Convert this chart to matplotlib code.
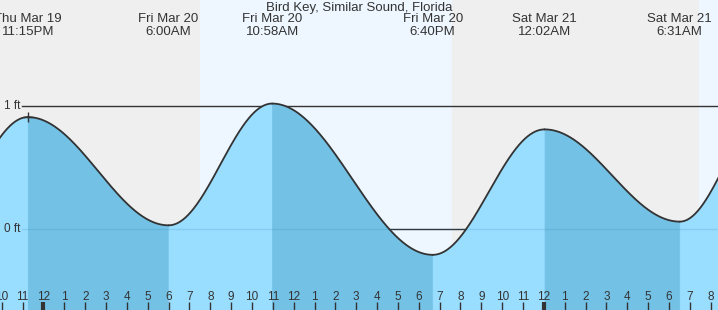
import numpy as np
import matplotlib.pyplot as plt

# tide extremes, hours counted from Fri Mar 20 00:00
tide_days = ['Thu Mar 19', 'Fri Mar 20', 'Fri Mar 20', 'Fri Mar 20', 'Sat Mar 21', 'Sat Mar 21']
tide_clock = ['11:15PM', '6:00AM', '10:58AM', '6:40PM', '12:02AM', '6:31AM']
tide_hours = [-0.75, 6.0, 10.967, 18.667, 24.033, 30.517]
tide_ft = [0.91, 0.03, 1.02, -0.21, 0.81, 0.06]

# extremes just outside the window (estimated from the curve at the edges)
edge_hours = [-5.5, 34.9]
edge_ft = [0.0, 1.0]

# sunrise / sunset
sunrise = [7.5, 31.45]
sunset = [19.58]

hour_labels = ['10', '11', '12', '1', '2', '3', '4', '5', '6', '7', '8', '9', '10', '11',
               '12', '1', '2', '3', '4', '5', '6', '7', '8', '9', '10', '11',
               '12', '1', '2', '3', '4', '5', '6', '7', '8']
hour_ticks = list(range(-2, 33))

xmin, xmax = -2.086, 32.35
ymin, ymax = -0.6585, 1.862

night = '#efefef'
day = '#eef7ff'
rise_col = '#99ddff'
fall_col = '#73c2e6'
ink = '#333333'

plt.rcParams['font.family'] = ['Liberation Sans', 'DejaVu Sans']

all_t = [edge_hours[0]] + tide_hours + [edge_hours[1]]
all_h = [edge_ft[0]] + tide_ft + [edge_ft[1]]

fig = plt.figure(figsize=(7.18, 3.10), dpi=100)
ax = fig.add_axes([0, 0, 1, 1])
ax.set_xlim(xmin, xmax)
ax.set_ylim(ymin, ymax)
for s in ax.spines.values():
    s.set_visible(False)

# day / night background
ax.axvspan(xmin, sunrise[0], color=night, lw=0, zorder=0)
ax.axvspan(sunrise[0], sunset[0], color=day, lw=0, zorder=0)
ax.axvspan(sunset[0], sunrise[1], color=night, lw=0, zorder=0)
ax.axvspan(sunrise[1], xmax, color=day, lw=0, zorder=0)

# reference lines
ax.axhline(1, xmin=22 / 718, xmax=1, color=ink, lw=1, zorder=1)
ax.axhline(0, xmin=22 / 718, xmax=1, color=ink, lw=1, zorder=1)

# water: cosine shape between each pair of extremes
for i in range(len(all_t) - 1):
    t0, t1 = all_t[i], all_t[i + 1]
    h0, h1 = all_h[i], all_h[i + 1]
    t = np.linspace(t0, t1, 300)
    h = h0 + (h1 - h0) * (1 - np.cos(np.pi * (t - t0) / (t1 - t0))) / 2
    col = rise_col if h1 > h0 else fall_col
    ax.fill_between(t, ymin, h, color=col, lw=0.6, edgecolor=col, zorder=2)
    ax.plot(t, h, color=ink, lw=1.3, zorder=4, solid_capstyle='round')

ax.axhline(0, xmin=22 / 718, xmax=1, color='#1a6fa0', lw=1, alpha=0.15, zorder=3)
ax.plot(tide_hours[0], tide_ft[0], marker='+', ms=7, mew=1, color=ink, zorder=5)

ax.text(20 / 718, 1, '1 ft', transform=ax.get_yaxis_transform(),
        ha='right', va='center', fontsize=8.5, color=ink)
ax.text(20 / 718, 0, '0 ft', transform=ax.get_yaxis_transform(),
        ha='right', va='center', fontsize=8.5, color=ink)

# extreme labels
for tt, d, c in zip(tide_hours, tide_days, tide_clock):
    ax.text(tt, 1 - 19 / 310, d, transform=ax.get_xaxis_transform(),
            ha='center', va='center', fontsize=9.5, color=ink)
    ax.text(tt, 1 - 32 / 310, c, transform=ax.get_xaxis_transform(),
            ha='center', va='center', fontsize=9.5, color=ink)

fig.text(0.5, 1 - 8 / 310, 'Bird Key, Similar Sound, Florida',
         ha='center', va='center', fontsize=9.5, color=ink)

# hour ticks: midnight thick
major = [x for x in hour_ticks if x % 24 == 0]
minor = [x for x in hour_ticks if x % 24 != 0]
ax.set_xticks(major)
ax.set_xticks(minor, minor=True)
ax.set_xticklabels([hour_labels[hour_ticks.index(x)] for x in major])
ax.set_xticklabels([hour_labels[hour_ticks.index(x)] for x in minor], minor=True)
ax.tick_params(axis='x', which='major', direction='in', length=5.5, width=3, color=ink,
               pad=-13.5, labelsize=8.5, labelcolor=ink)
ax.tick_params(axis='x', which='minor', direction='in', length=5.5, width=1, color=ink,
               pad=-13.5, labelsize=8.5, labelcolor=ink)
ax.set_yticks([])
ax.xaxis.set_zorder(6)

fig.savefig('out.png', dpi=100)
